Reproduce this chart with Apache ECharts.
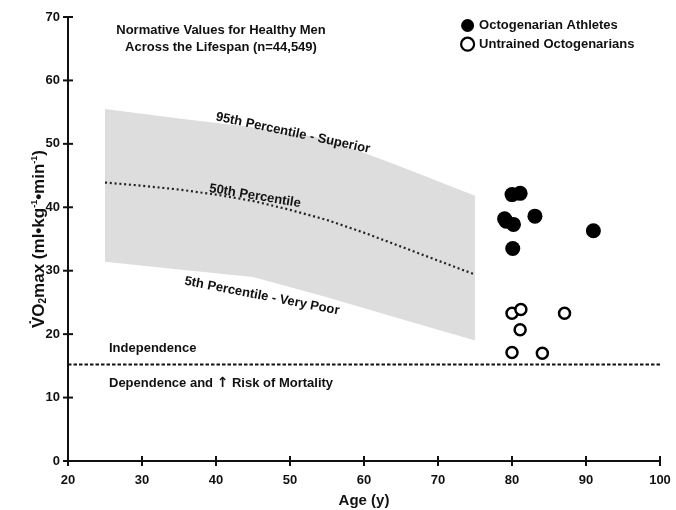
<!DOCTYPE html>
<html>
<head>
<meta charset="utf-8">
<script src="https://cdn.jsdelivr.net/npm/echarts@6/dist/echarts.min.js"></script>
<style>html,body{margin:0;padding:0;background:#fff;}#c{width:676px;height:510px;}</style>
</head>
<body>
<div id="c"></div>
<script>
// ---- data ----
var bandAges = [25, 35, 45, 55, 65, 75];
var pct95 = [55.5, 54.0, 52.6, 50.8, 46.4, 41.8];
var pct5 = [31.4, 30.2, 29.0, 25.8, 22.4, 19.0];
var medianAges = [25, 30, 35, 40, 45, 50, 55, 60, 65, 70, 75];
var pct50 = [43.9, 43.4, 42.8, 42.0, 41.0, 39.6, 38.0, 36.0, 33.8, 31.6, 29.4];
var athleteAges = [80.0, 81.1, 79.0, 79.2, 80.2, 83.1, 80.1, 91.0];
var athleteVO2 = [42.0, 42.2, 38.2, 37.8, 37.3, 38.6, 33.5, 36.3];
var untrainedAges = [80.0, 81.2, 87.1, 81.1, 80.0, 84.1];
var untrainedVO2 = [23.3, 23.9, 23.3, 20.7, 17.1, 17.0];
var thresholdAges = [20, 100];
var thresholdVO2 = 15.2;
var xTicks = [20, 30, 40, 50, 60, 70, 80, 90, 100];
var yTicks = [0, 10, 20, 30, 40, 50, 60, 70];

function pairs(xs, ys) { return xs.map(function (x, i) { return [x, ys[i]]; }); }

var FONT = '"Liberation Sans", Arial, sans-serif';
var INK = '#111';
var X0 = xTicks[0], Y0 = yTicks[0];
var TF = 'bold 13px ' + FONT;

var chart = echarts.init(document.getElementById('c'), null, { renderer: 'canvas' });

function label(x, y, text, align, rotDeg, rich) {
  var st = { text: text, fill: INK, font: TF, textAlign: align, textVerticalAlign: 'middle' };
  if (rich) st.rich = rich;
  return {
    type: 'text', x: x, y: y, rotation: rotDeg ? -rotDeg * Math.PI / 180 : 0,
    style: st, z: 10
  };
}

chart.setOption({
  animation: false,
  grid: { left: 68, right: 16, top: 17, bottom: 49, outerBoundsMode: 'none', containLabel: false },
  xAxis: {
    type: 'value', min: xTicks[0], max: xTicks[xTicks.length - 1], interval: 10,
    axisLine: { onZero: false, lineStyle: { color: INK, width: 2 } },
    axisTick: { show: false },
    axisLabel: { color: INK, fontFamily: FONT, fontWeight: 'bold', fontSize: 13, margin: 13 },
    splitLine: { show: false },
    name: 'Age (y)', nameLocation: 'middle', nameGap: 32, nameMoveOverlap: false,
    nameTextStyle: { color: INK, fontFamily: FONT, fontWeight: 'bold', fontSize: 15 }
  },
  yAxis: {
    type: 'value', min: yTicks[0], max: yTicks[yTicks.length - 1], interval: 10,
    axisLine: { onZero: false, lineStyle: { color: INK, width: 2 } },
    axisTick: { show: false },
    axisLabel: { color: INK, fontFamily: FONT, fontWeight: 'bold', fontSize: 13, margin: 8 },
    splitLine: { show: false },
    name: '{a|V\u0307O}{s|2}{a|max (ml\u2022kg}{p|-1}{a|\u2022min}{p|-1}{a|)}',
    nameLocation: 'middle', nameGap: 20, nameRotate: 90, nameMoveOverlap: false,
    nameTextStyle: {
      color: INK, fontFamily: FONT, fontWeight: 'bold', fontSize: 17,
      rich: {
        a: { fontFamily: FONT, fontWeight: 'bold', fontSize: 17, color: INK },
        s: { fontFamily: FONT, fontWeight: 'bold', fontSize: 10, color: INK, padding: [8, 0, 0, 0] },
        p: { fontFamily: FONT, fontWeight: 'bold', fontSize: 9, color: INK, padding: [0, 0, 8, 0] }
      }
    }
  },
  legend: {
    orient: 'vertical', left: 460, top: 19, padding: 0, itemWidth: 13, itemHeight: 13, itemGap: 4.6,
    icon: 'circle',
    textStyle: { color: INK, fontFamily: FONT, fontWeight: 'bold', fontSize: 13 },
    data: [
      { name: 'Octogenarian Athletes' },
      { name: 'Untrained Octogenarians', itemStyle: { borderWidth: 2.2 } }
    ]
  },
  series: [
    {
      name: 'band', type: 'custom', silent: true, z: 1, clip: false,
      data: [0],
      renderItem: function (params, api) {
        var pts = [];
        bandAges.forEach(function (a, i) { pts.push(api.coord([a, pct95[i]])); });
        for (var i = bandAges.length - 1; i >= 0; i--) pts.push(api.coord([bandAges[i], pct5[i]]));
        return { type: 'polygon', shape: { points: pts }, style: { fill: '#dddddd' } };
      }
    },
    {
      name: 'median', type: 'line', symbol: 'none', silent: true,
      data: pairs(medianAges, pct50),
      lineStyle: { color: '#222', width: 2.2, type: [2, 2.8] }, z: 3
    },
    {
      name: 'threshold', type: 'line', symbol: 'none', silent: true,
      data: thresholdAges.map(function (a) { return [a, thresholdVO2]; }),
      lineStyle: { color: INK, width: 2, type: [3.5, 2] }, z: 3
    },
    {
      name: 'xticks', type: 'custom', silent: true, clip: false, z: 6,
      data: xTicks,
      renderItem: function (params, api) {
        var p = api.coord([api.value(0), Y0]);
        return { type: 'line', shape: { x1: p[0], y1: p[1] - 5, x2: p[0], y2: p[1] + 5 }, style: { stroke: INK, lineWidth: 2 } };
      }
    },
    {
      name: 'yticks', type: 'custom', silent: true, clip: false, z: 6,
      data: yTicks,
      renderItem: function (params, api) {
        var p = api.coord([X0, api.value(0)]);
        return { type: 'line', shape: { x1: p[0] - 5, y1: p[1], x2: p[0] + 5, y2: p[1] }, style: { stroke: INK, lineWidth: 2 } };
      }
    },
    {
      name: 'Octogenarian Athletes', type: 'scatter', symbol: 'circle', symbolSize: 15,
      data: pairs(athleteAges, athleteVO2),
      itemStyle: { color: '#000', opacity: 1 }, z: 5
    },
    {
      name: 'Untrained Octogenarians', type: 'scatter', symbol: 'circle', symbolSize: 11,
      data: pairs(untrainedAges, untrainedVO2),
      itemStyle: { color: '#fff', borderColor: '#000', borderWidth: 2.5, opacity: 1 }, z: 5
    }
  ],
  graphic: [
    label(221, 30, 'Normative Values for Healthy Men', 'center'),
    label(221, 47.5, 'Across the Lifespan (n=44,549)', 'center'),
    label(293, 133, '95th Percentile - Superior', 'center', 12),
    label(255, 196, '50th Percentile', 'center', 9.5),
    label(262, 296, '5th Percentile - Very Poor', 'center', 11),
    label(109, 348, 'Independence', 'left'),
    label(109, 383.5, '{t|Dependence and }{r|\u2191}{t| Risk of Mortality}', 'left', 0, {
      t: { font: TF, fill: INK },
      r: { font: 'bold 14px "DejaVu Sans", sans-serif', fill: INK }
    })
  ]
});
</script>
</body>
</html>
